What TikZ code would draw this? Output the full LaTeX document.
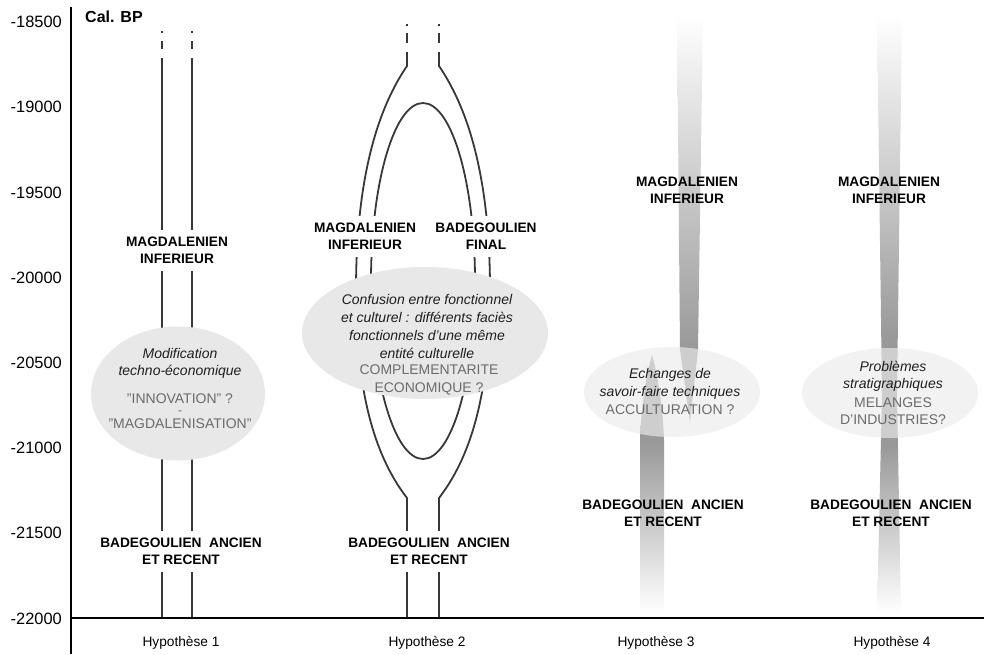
\documentclass[tikz,border=0pt]{standalone}
\usepackage{fontspec}
\setmainfont{Liberation Sans}
\usetikzlibrary{positioning}
\pgfdeclareverticalshading{magbar}{100bp}{color(0bp)=(black!40); color(34bp)=(black!40); color(75bp)=(white); color(100bp)=(white)}
\pgfdeclareverticalshading{badbar}{100bp}{color(0bp)=(white); color(25bp)=(white); color(58bp)=(black!40); color(100bp)=(black!40)}
\pgfdeclareverticalshading{mixbar}{100bp}{color(0bp)=(white); color(25bp)=(white); color(39bp)=(black!40); color(48bp)=(black!40); color(75bp)=(white); color(100bp)=(white)}
\tikzset{
  hline/.style={draw=black!78, line width=1.8pt},
  axisline/.style={draw=black, line width=2.2pt},
  tick/.style={font=\fontsize{16.4}{18}\selectfont, anchor=east, inner sep=0pt},
  lab/.style={font=\bfseries\fontsize{13.7}{17}\selectfont, align=center, inner sep=0pt},
  wlab/.style={lab, fill=white, inner xsep=2pt, inner ysep=7pt},
  note/.style={font=\itshape\fontsize{14}{17.5}\selectfont, align=center, text=black!88, inner sep=0pt},
  caps/.style={font=\fontsize{14}{17.5}\selectfont, align=center, text=black!58, inner sep=0pt},
  hyp/.style={font=\fontsize{13.7}{16}\selectfont, inner sep=0pt},
  bubble/.style={fill=black!9},
  softbubble/.style={fill=black!8, fill opacity=0.65}
}
\begin{document}
\begin{tikzpicture}[x=1pt,y=-1pt]
  \useasboundingbox (0,0) rectangle (984,654);

  \path[shading=magbar] (677,15) -- (703,15) -- (698,350) -- (690,422) -- (680,350) -- cycle;
  \path[shading=badbar] (652,355) .. controls (645,380) and (641,410) .. (640,440) -- (640,613)
    -- (664,613) -- (664,440) .. controls (663,410) and (659,380) .. (652,355) -- cycle;
  \path[shading=mixbar] (877,15) -- (902,15) -- (897,395) -- (901,613) -- (877,613) -- (882,395) -- cycle;

  \foreach \x in {161.7,192.3} {
    \draw[hline] (\x,31) -- (\x,33);
    \draw[hline] (\x,41) -- (\x,49);
    \draw[hline] (\x,58) -- (\x,618);
  }
  \foreach \s in {1,-1} {
    \begin{scope}[xshift=423, xscale=\s]
      \draw[hline] (-16,24) -- (-16,26);
      \draw[hline] (-16,33) -- (-16,43);
      \draw[hline] (-16,52) -- (-16,66) .. controls (-53,120) and (-67,200) .. (-67,290)
        .. controls (-67,380) and (-53,450) .. (-16,498) -- (-16,618);
    \end{scope}
  }
  \draw[hline] (423,281) ellipse [x radius=52, y radius=178];

  \fill[bubble] (178,393.5) ellipse [x radius=87, y radius=67];
  \fill[bubble] (425,333) ellipse [x radius=123, y radius=66];
  \fill[softbubble] (672,392) ellipse [x radius=88, y radius=45];
  \fill[softbubble] (890,393) ellipse [x radius=88, y radius=45];

  \draw[axisline] (71,7) -- (71,654);
  \draw[axisline] (71,618) -- (984,618);
  \foreach \v [count=\i from 0] in {18500,19000,19500,20000,20500,21000,21500,22000}
    \node[tick] (t\i) at (62,22+85.2*\i) {-\v};
  \node[font=\bfseries\fontsize{16}{18}\selectfont, anchor=west, inner sep=0pt] (calbp) at (85,17) {Cal. BP};

  \node[wlab] (mag1) at (177,250.5) {MAGDALENIEN\\INFERIEUR};
  \node[wlab] (bad1) at (181,551.5) {BADEGOULIEN~~ANCIEN\\ET RECENT};
  \node[note] (mod1) at (180,363.5) {Modification\\techno-économique};
  \node[caps] (inno1) at (180,398.5) {"INNOVATION" ?};
  \node[caps, font=\fontsize{12}{14}\selectfont] (dash1) at (180,413) {-};
  \node[caps] (magd1) at (180,423.5) {"MAGDALENISATION"};

  \node[wlab] (mag2) at (365,236.5) {MAGDALENIEN\\INFERIEUR};
  \node[wlab] (fin2) at (486,236.5) {BADEGOULIEN\\FINAL};
  \node[wlab] (bad2) at (429,551.5) {BADEGOULIEN~~ANCIEN\\ET RECENT};
  \node[note, font=\itshape\fontsize{14}{18}\selectfont] (conf2) at (427,326)
    {Confusion entre fonctionnel\\et culturel : différents faciès\\fonctionnels d'une même\\entité culturelle};
  \node[caps, font=\fontsize{14}{18}\selectfont] (comp2) at (429,380) {COMPLEMENTARITE\\ECONOMIQUE ?};

  \node[lab] (mag3) at (687,190.5) {MAGDALENIEN\\INFERIEUR};
  \node[lab] (bad3) at (663,513.5) {BADEGOULIEN~~ANCIEN\\ET RECENT};
  \node[note] (ech3) at (670,384) {Echanges de\\savoir-faire techniques};
  \node[caps] (acc3) at (670,410) {ACCULTURATION ?};

  \node[lab] (mag4) at (889,190.5) {MAGDALENIEN\\INFERIEUR};
  \node[lab] (bad4) at (891,513.5) {BADEGOULIEN~~ANCIEN\\ET RECENT};
  \node[note] (pb4) at (893,376.5) {Problèmes\\stratigraphiques};
  \node[caps] (mel4) at (893,411) {MELANGES\\D'INDUSTRIES?};

  \node[hyp] (h1) at (181,643) {Hypothèse 1};
  \node[hyp] (h2) at (427,643) {Hypothèse 2};
  \node[hyp] (h3) at (656,643) {Hypothèse 3};
  \node[hyp] (h4) at (892,643) {Hypothèse 4};
\end{tikzpicture}
\end{document}
